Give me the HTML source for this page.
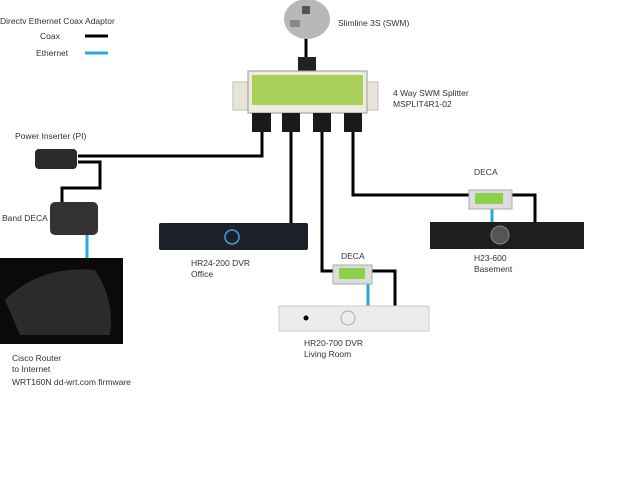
<!DOCTYPE html>
<html><head><meta charset="utf-8"><style>
html,body{margin:0;padding:0;background:#fff;width:640px;height:480px;overflow:hidden}
svg text{font-family:"Liberation Sans",sans-serif;font-size:8.5px;fill:#333}
</style></head><body>
<svg width="640" height="480" viewBox="0 0 640 480" xmlns="http://www.w3.org/2000/svg">
<!-- legend -->
<text x="0" y="24">Directv Ethernet Coax Adaptor</text>
<text x="40" y="39">Coax</text>
<line x1="85" y1="36" x2="108" y2="36" stroke="#000" stroke-width="3"/>
<text x="36" y="56">Ethernet</text>
<line x1="85" y1="53" x2="108" y2="53" stroke="#29a8e0" stroke-width="3"/>

<!-- cables -->
<g stroke="#000" stroke-width="3" fill="none">
<line x1="306" y1="38" x2="306" y2="60"/>
<polyline points="262,130 262,156 78,156"/>
<polyline points="78,162 100,162 100,188 62,188 62,204"/>
<line x1="291" y1="130" x2="291" y2="224"/>
<polyline points="322,130 322,271 334,271"/>
<polyline points="371,271 395,271 395,307"/>
<polyline points="353,130 353,195 470,195"/>
<polyline points="511,195 535,195 535,223"/>
</g>
<g stroke="#29a8e0" stroke-width="3">
<line x1="87" y1="234" x2="87" y2="259"/>
<line x1="492" y1="208" x2="492" y2="223"/>
<line x1="368" y1="283" x2="368" y2="307"/>
</g>

<!-- dish -->
<ellipse cx="307" cy="19" rx="23" ry="20" fill="#b8b8b8"/>
<rect x="290" y="20" width="10" height="7" fill="#888"/>
<rect x="302" y="6" width="8" height="8" fill="#555"/>
<text x="338" y="26">Slimline 3S (SWM)</text>

<!-- splitter -->
<rect x="298" y="57" width="18" height="15" fill="#222"/>
<rect x="233" y="82" width="16" height="28" fill="#e8e4d8" stroke="#bbb"/>
<rect x="366" y="82" width="12" height="28" fill="#e8e4d8" stroke="#bbb"/>
<rect x="248" y="71" width="119" height="42" fill="#eeebe0" stroke="#999"/>
<rect x="252" y="75" width="111" height="30" fill="#a8d05a"/>
<rect x="252" y="113" width="19" height="19" fill="#1a1a1a"/>
<rect x="282" y="113" width="18" height="19" fill="#1a1a1a"/>
<rect x="313" y="113" width="18" height="19" fill="#1a1a1a"/>
<rect x="344" y="113" width="18" height="19" fill="#1a1a1a"/>
<text x="393" y="96">4 Way SWM Splitter</text>
<text x="393" y="107">MSPLIT4R1-02</text>

<!-- power inserter -->
<text x="15" y="139">Power Inserter (PI)</text>
<rect x="35" y="149" width="42" height="20" rx="4" fill="#2a2a2a"/>
<!-- band deca -->
<rect x="50" y="202" width="48" height="33" rx="5" fill="#333"/>
<text x="2" y="221">Band DECA</text>
<!-- router -->
<rect x="0" y="258" width="123" height="86" fill="#0a0a0a"/>
<path d="M5,300 Q40,265 95,270 Q115,300 110,335 L20,335 Z" fill="#2b2b2b"/>
<text x="12" y="361">Cisco Router</text>
<text x="12" y="372">to Internet</text>
<text x="12" y="385">WRT160N dd-wrt.com firmware</text>

<!-- HR24 -->
<rect x="159" y="223" width="149" height="27" rx="2" fill="#1c2028"/>
<circle cx="232" cy="237" r="7" fill="none" stroke="#3aa0e0" stroke-width="1.5"/>
<text x="191" y="266">HR24-200 DVR</text>
<text x="191" y="277">Office</text>

<!-- DECA2 -->
<text x="341" y="259">DECA</text>
<rect x="333" y="265" width="39" height="19" fill="#ddd" stroke="#aaa"/>
<rect x="339" y="268" width="26" height="11" fill="#8ed04a"/>
<!-- HR20 -->
<rect x="279" y="306" width="150" height="25" fill="#ececec" stroke="#ccc"/>
<circle cx="348" cy="318" r="7" fill="none" stroke="#aaa"/>
<circle cx="306" cy="318" r="2.5" fill="#000"/>
<text x="304" y="346">HR20-700 DVR</text>
<text x="304" y="357">Living Room</text>

<!-- DECA1 -->
<text x="474" y="175">DECA</text>
<rect x="469" y="190" width="43" height="19" fill="#ddd" stroke="#aaa"/>
<rect x="475" y="193" width="28" height="11" fill="#8ed04a"/>
<!-- H23 -->
<rect x="430" y="222" width="154" height="27" fill="#1e1e1e"/>
<circle cx="500" cy="235" r="9" fill="#555" stroke="#888"/>
<text x="474" y="261">H23-600</text>
<text x="474" y="272">Basement</text>
</svg>
</body></html>
